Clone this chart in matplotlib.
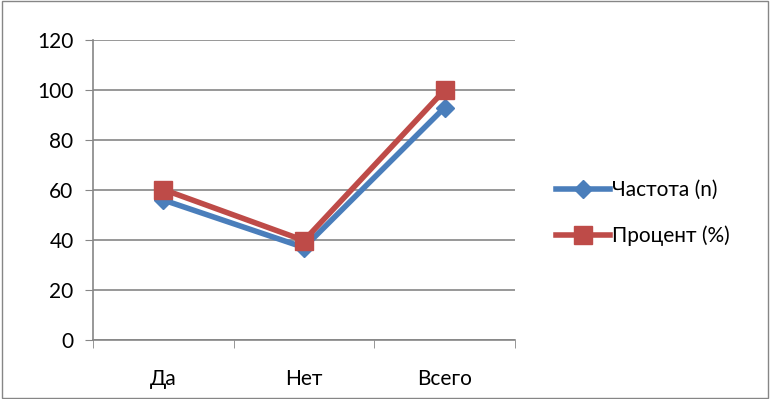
import matplotlib
matplotlib.use("Agg")
import matplotlib.pyplot as plt
from matplotlib.patches import Rectangle

# данные диаграммы
categories = ["Да", "Нет", "Всего"]
freq_values = [56, 37, 93]
pct_values = [60.2, 39.8, 100]
y_ticks = [0, 20, 40, 60, 80, 100, 120]

plt.rcParams['font.family'] = ['Lato', 'DejaVu Sans']
fs = 15

fig = plt.figure(figsize=(7.70, 3.99), dpi=100)
ax = fig.add_axes([93 / 770, 1 - 340 / 399, 422 / 770, 300 / 399])

x = [0.5 + i for i in range(len(categories))]
ax.plot(x, freq_values, color="#4a7ebb", lw=4, marker="D", ms=9,
        label="Частота (n)", zorder=3)
ax.plot(x, pct_values, color="#be4b48", lw=4, marker="s", ms=13,
        label="Процент (%)", zorder=4)

ax.set_xlim(0, len(categories))
ax.set_ylim(0, 120)
ax.set_yticks(y_ticks)
ax.set_xticks(x)
ax.set_xticklabels(categories)
ax.set_xticks(range(len(categories) + 1), minor=True)
ax.tick_params(axis="x", which="major", length=0, pad=21, labelsize=fs)
ax.tick_params(axis="x", which="minor", length=6, color="#868686")
ax.tick_params(axis="y", length=6, color="#868686", labelsize=fs, pad=8)
ax.grid(axis="y", color="#868686", lw=1.2)
ax.set_axisbelow(True)
for side in ["top", "right"]:
    ax.spines[side].set_visible(False)
for side in ["left", "bottom"]:
    ax.spines[side].set_color("#868686")
    ax.spines[side].set_linewidth(1.2)

leg = fig.legend(loc="center left", bbox_to_anchor=(537 / 770, 1 - 213 / 399),
                 frameon=False, fontsize=fs, handlelength=2.6,
                 handletextpad=0.1, labelspacing=1.2)

# рамка вокруг всей диаграммы
fig.patches.append(Rectangle((0.002, 0.003), 0.996, 0.994, transform=fig.transFigure,
                             fill=False, edgecolor="#868686", lw=1))

fig.savefig("out.png", dpi=100)
